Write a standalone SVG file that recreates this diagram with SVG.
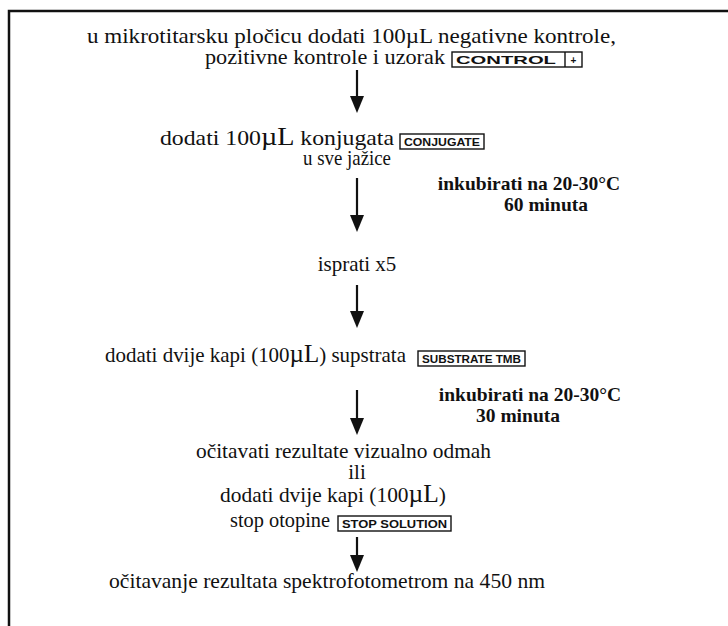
<svg xmlns="http://www.w3.org/2000/svg" width="728" height="626" viewBox="0 0 728 626">
<defs>
<style>
.t{font-family:"Liberation Serif","Times New Roman",serif;font-size:21px;fill:#111}
.b{font-family:"Liberation Serif","Times New Roman",serif;font-size:19.5px;font-weight:bold;fill:#111}
.mu{font-size:25px}
.lbl{font-family:"Liberation Sans",Arial,sans-serif;font-size:10px;font-weight:bold;fill:#111}
.box{fill:#fff;stroke:#111;stroke-width:1.4}
.sh{stroke:#111;stroke-width:2.2;fill:none}
.hd{fill:#111}
</style>
</defs>
<rect width="728" height="626" fill="#fff"/>
<path d="M9,626 V11 H728" fill="none" stroke="#111" stroke-width="2.5"/>

<g id="connectors">
<line class="sh" x1="357" y1="70" x2="357" y2="97"/><path class="hd" d="M350,96 H364 L357,113 Z"/>
<line class="sh" x1="357" y1="178" x2="357" y2="216"/><path class="hd" d="M350,215 H364 L357,232 Z"/>
<line class="sh" x1="357" y1="285" x2="357" y2="312"/><path class="hd" d="M350,311 H364 L357,328 Z"/>
<line class="sh" x1="357" y1="390" x2="357" y2="419"/><path class="hd" d="M350,418 H364 L357,435 Z"/>
<line class="sh" x1="357" y1="537" x2="357" y2="556"/><path class="hd" d="M350,555 H364 L357,572 Z"/>
</g>

<g id="step1">
<text class="t" x="87" y="43" textLength="529" lengthAdjust="spacingAndGlyphs">u mikrotitarsku pločicu dodati 100µL negativne kontrole,</text>
<text class="t" x="205" y="64" textLength="240" lengthAdjust="spacingAndGlyphs">pozitivne kontrole i uzorak</text>
<rect class="box" x="452" y="52" width="130" height="15"/>
<line class="box" x1="565" y1="52" x2="565" y2="67"/>
<text class="lbl" x="456" y="63.5" textLength="100" lengthAdjust="spacingAndGlyphs">CONTROL</text>
<text class="lbl" x="573.5" y="63.5" text-anchor="middle">+</text>
</g>

<g id="step2">
<text class="t" x="160" y="145" textLength="234" lengthAdjust="spacingAndGlyphs">dodati 100<tspan class="mu">µL</tspan> konjugata</text>
<rect class="box" x="400" y="134" width="84" height="15"/>
<text class="lbl" x="404" y="145.5" textLength="76" lengthAdjust="spacingAndGlyphs">CONJUGATE</text>
<text class="t" x="303" y="165" textLength="88" lengthAdjust="spacingAndGlyphs">u sve jažice</text>
</g>

<g id="inc1">
<text class="b" x="529" y="190" text-anchor="middle">inkubirati na 20-30°C</text>
<text class="b" x="546" y="211" text-anchor="middle">60 minuta</text>
</g>

<g id="step3">
<text class="t" x="357" y="271" text-anchor="middle">isprati x5</text>
</g>

<g id="step4">
<text class="t" x="105" y="362" textLength="301" lengthAdjust="spacingAndGlyphs">dodati dvije kapi (100<tspan class="mu">µL</tspan>) supstrata</text>
<rect class="box" x="418" y="351" width="107" height="15"/>
<text class="lbl" x="422" y="362.5" textLength="99" lengthAdjust="spacingAndGlyphs">SUBSTRATE TMB</text>
</g>

<g id="inc2">
<text class="b" x="530" y="401" text-anchor="middle">inkubirati na 20-30°C</text>
<text class="b" x="518" y="422" text-anchor="middle">30 minuta</text>
</g>

<g id="step5">
<text class="t" x="196" y="458" textLength="295" lengthAdjust="spacingAndGlyphs">očitavati rezultate vizualno odmah</text>
<text class="t" x="357" y="479" text-anchor="middle">ili</text>
<text class="t" x="220" y="502" textLength="226" lengthAdjust="spacingAndGlyphs">dodati dvije kapi (100<tspan class="mu">µL</tspan>)</text>
<text class="t" x="230" y="527" textLength="100" lengthAdjust="spacingAndGlyphs">stop otopine</text>
<rect class="box" x="338" y="516" width="113" height="15"/>
<text class="lbl" x="342" y="527.5" textLength="105" lengthAdjust="spacingAndGlyphs">STOP SOLUTION</text>
</g>

<g id="step6">
<text class="t" x="109" y="588" textLength="436" lengthAdjust="spacingAndGlyphs">očitavanje rezultata spektrofotometrom na 450 nm</text>
</g>
</svg>
